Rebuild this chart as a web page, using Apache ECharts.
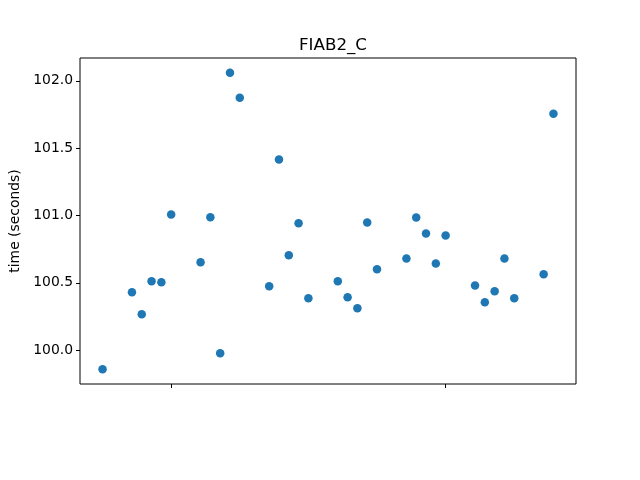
<!DOCTYPE html>
<html>
<head>
<meta charset="utf-8">
<script src="https://cdn.jsdelivr.net/npm/echarts@6/dist/echarts.min.js"></script>
<style>html,body{margin:0;padding:0;background:#fff}#c{width:640px;height:480px}</style>
</head>
<body>
<div id="c"></div>
<script>
const dayIndex = [-7,-4,-3,-2,-1,0,3,4,5,6,7,10,11,12,13,14,17,18,19,20,21,24,25,26,27,28,31,32,33,34,35,38,39];
const timeSeconds = [99.859,100.430,100.267,100.511,100.504,101.007,100.652,100.987,99.978,102.059,101.874,100.474,101.415,100.704,100.943,100.385,100.511,100.393,100.311,100.948,100.600,100.681,100.985,100.867,100.644,100.852,100.481,100.356,100.437,100.681,100.385,100.563,101.756];
const xTicks = [0, 28];
const yTicks = [100.0, 100.5, 101.0, 101.5, 102.0];
const titleText = 'FIAB2_C';
const yName = 'time (seconds)';

const font = 'DejaVu Sans';
const chart = echarts.init(document.getElementById('c'), null, {renderer: 'canvas'});
chart.setOption({
  animation: false,
  backgroundColor: '#fff',
  title: {
    text: titleText, left: 328, top: 32, textAlign: 'center',
    textStyle: {fontFamily: font, fontSize: 16.7, fontWeight: 'normal', color: '#000'}
  },
  grid: {left: 80, right: 64, top: 58, bottom: 96, show: true, borderColor: '#000', borderWidth: 1, backgroundColor: 'transparent'},
  xAxis: {
    type: 'value', min: -9.3, max: 41.3,
    axisLine: {show: false, onZero: false},
    splitLine: {show: false},
    axisTick: {show: true, inside: false, length: 4, customValues: xTicks, lineStyle: {color: '#000', width: 1}},
    axisLabel: {show: false}
  },
  yAxis: {
    type: 'value', min: 99.749, max: 102.169,
    name: yName, nameLocation: 'middle', nameGap: 49, nameRotate: 90,
    nameTextStyle: {fontFamily: font, fontSize: 13.9, color: '#000'},
    axisLine: {show: false, onZero: false},
    splitLine: {show: false},
    axisTick: {show: true, inside: false, length: 4, customValues: yTicks, lineStyle: {color: '#000', width: 1}},
    axisLabel: {show: true, customValues: yTicks, margin: 7, fontFamily: font, fontSize: 13.9, color: '#000',
      formatter: v => Number(v).toFixed(1)}
  },
  series: [{
    type: 'scatter',
    data: dayIndex.map((d, i) => [d, timeSeconds[i]]),
    symbol: 'circle', symbolSize: 8.5,
    itemStyle: {color: '#1f77b4', opacity: 1}
  }]
});
</script>
</body>
</html>
